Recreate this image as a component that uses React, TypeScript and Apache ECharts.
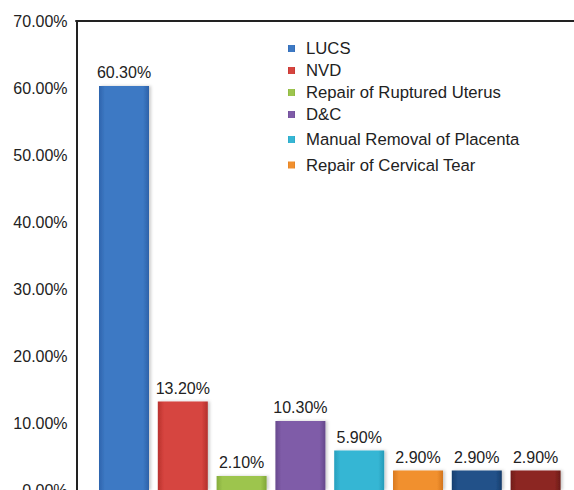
import React, { useEffect, useRef } from "react";
import * as echarts from "echarts";

const categories = [
  "LUCS",
  "NVD",
  "Repair of Ruptured Uterus",
  "D&C",
  "Manual Removal of Placenta",
  "Repair of Cervical Tear",
  "Other 1",
  "Other 2",
];
const values = [60.3, 13.2, 2.1, 10.3, 5.9, 2.9, 2.9, 2.9];
const legendGroupA = ["LUCS", "NVD", "Repair of Ruptured Uterus", "D&C"];
const legendGroupB = ["Manual Removal of Placenta", "Repair of Cervical Tear"];
const yTicks = { min: 0, max: 70, interval: 10 };

const palette: [string, string, string][] = [
  ["#2e64ad", "#3d79c4", "#2d61a8"],
  ["#b8312e", "#d6443f", "#b22f2c"],
  ["#86ad3c", "#9dc54e", "#80a737"],
  ["#684a8e", "#7f5ca8", "#64478a"],
  ["#27a0be", "#36b6d4", "#259bb8"],
  ["#d97a20", "#f1902e", "#d3751e"],
  ["#173f70", "#215189", "#163c6b"],
  ["#701d1a", "#8c2622", "#6b1c19"],
];

const grad = (c: [string, string, string]) =>
  new echarts.graphic.LinearGradient(0, 0, 1, 0, [
    { offset: 0, color: c[0] },
    { offset: 0.12, color: c[1] },
    { offset: 0.88, color: c[1] },
    { offset: 1, color: c[2] },
  ]);

export default function App() {
  const ref = useRef<HTMLDivElement>(null);
  useEffect(() => {
    document.body.style.margin = "0";
    if (!ref.current) return;
    const chart = echarts.init(ref.current, undefined, { renderer: "svg" });
    const font = "Liberation Sans";
    const series = categories.map((name, i) => ({
      name,
      type: "bar",
      stack: "all",
      xAxisIndex: 0,
      yAxisIndex: 0,
      barWidth: 50,
      data: categories.map((_, j) => (j === i ? values[i] : "-")),
      itemStyle: {
        color: grad(palette[i]),
        shadowColor: "rgba(0,0,0,0.2)",
        shadowBlur: 3,
        shadowOffsetX: 2,
        shadowOffsetY: 0,
      },
      label: {
        show: true,
        position: "top",
        distance: 5,
        color: "#222",
        fontSize: 16,
        fontFamily: font,
        formatter: (p: any) => Number(p.value).toFixed(2) + "%",
      },
    }));
    const legendCommon = {
      orient: "vertical",
      left: 288,
      padding: 0,
      itemWidth: 7,
      itemHeight: 7,
      icon: "rect",
      textStyle: {
        color: "#222",
        fontSize: 16.7,
        fontFamily: font,
        lineHeight: 16,
        padding: [0, 0, 0, 6],
      },
    };
    chart.setOption({
      animation: false,
      backgroundColor: "#fff",
      textStyle: { fontFamily: font },
      legend: [
        { ...legendCommon, top: 40, itemGap: 5, data: legendGroupA },
        { ...legendCommon, top: 131, itemGap: 8.5, data: legendGroupB },
      ],
      grid: [
        { left: 94.6, right: 9, top: 21, bottom: 0, outerBoundsMode: "none", containLabel: false },
        { left: 76, right: 0, top: 21, height: 1, outerBoundsMode: "none", containLabel: false },
      ],
      xAxis: [
        {
          type: "category",
          gridIndex: 0,
          data: categories,
          axisLine: { show: false },
          axisTick: { show: false },
          axisLabel: { show: false },
        },
        {
          type: "value",
          gridIndex: 1,
          position: "top",
          axisLine: { show: true, onZero: false, lineStyle: { color: "#222", width: 2 } },
          axisTick: { show: false },
          axisLabel: { show: false },
          splitLine: { show: false },
        },
      ],
      yAxis: [
        {
          type: "value",
          gridIndex: 0,
          min: yTicks.min,
          max: yTicks.max,
          interval: yTicks.interval,
          offset: 18,
          axisLine: { show: true, lineStyle: { color: "#222", width: 2 } },
          axisTick: { show: false },
          splitLine: { show: false },
          axisLabel: {
            margin: 9,
            color: "#222",
            fontSize: 16,
            fontFamily: font,
            formatter: (v: number) => v.toFixed(2) + "%",
          },
        },
        {
          type: "value",
          gridIndex: 1,
          show: false,
        },
      ],
      series,
    });
    return () => chart.dispose();
  }, []);
  return <div ref={ref} style={{ width: 574, height: 490 }} />;
}
